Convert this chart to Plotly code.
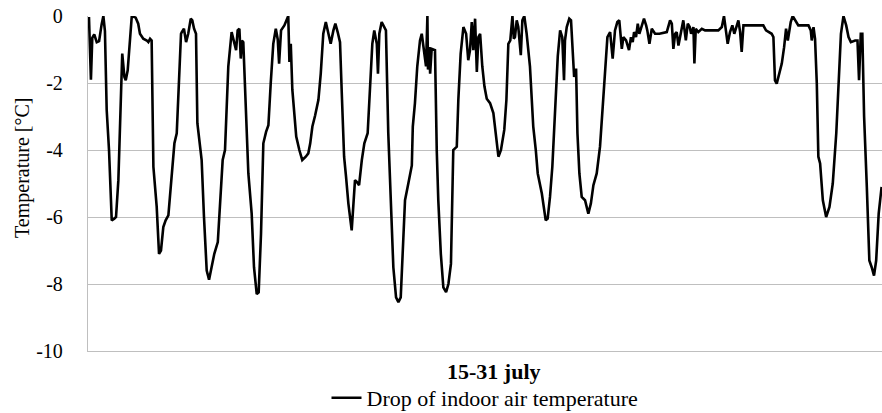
import plotly.graph_objects as go

# Time since start of 15 July [h] and drop of indoor air temperature [°C]
hours = [
    0.5, 1.5, 2.2, 3.2, 4.5, 5.7, 7.0, 7.9, 8.7, 9.6, 10.8, 12.2, 13.5, 14.4, 15.6, 17.0, 17.6, 18.7, 19.4, 20.4,
    21.6, 22.5, 24.5, 25.8, 26.7, 28.4, 30.2, 31.0, 31.9, 32.7, 33.6, 35.3, 36.5, 37.5, 38.7, 39.9, 41.3, 42.7,
    44.4, 45.6, 46.9, 47.8,
    48.2, 49.3, 50.4, 51.5, 52.8, 53.6, 54.5, 55.5, 56.2, 58.4, 59.6, 61.0, 62.2, 63.6, 64.9, 66.7, 67.8, 69.2,
    70.4, 72.1, 73.8, 75.0, 76.1, 76.9, 77.8, 78.5, 79.1, 79.8, 81.2, 82.4, 84.1, 85.3, 86.7, 87.7, 88.9, 90.1,
    91.5, 92.7, 93.9, 95.2, 96.5, 97.5, 98.2,
    99.2, 100.9, 102.3, 102.9, 103.5, 104.2, 105.0, 106.0, 107.0, 108.6, 110.1, 111.9, 113.2, 114.2, 115.3,
    116.7, 118.4, 119.6, 120.9, 122.2, 123.5, 124.7, 126.1, 127.1, 128.3, 129.5, 130.4, 131.6, 132.6, 133.8,
    135.5, 136.5, 137.2, 138.1, 139.3, 140.7, 142.0, 143.7, 144.9, 146.1, 147.1,
    148.4, 149.0, 149.7, 150.9, 152.1, 153.1, 154.3, 155.6, 156.9, 158.3, 159.5, 160.7, 161.5, 162.9, 164.6,
    166.4, 166.9, 168.0, 169.2, 170.6, 171.5, 172.7, 173.7, 174.4, 174.7, 175.4, 175.8, 176.6, 178.3, 179.2,
    180.0, 181.3, 182.6, 184.0, 185.2, 186.5, 187.7, 188.6, 189.5, 190.3, 191.5, 192.9, 194.3, 195.4,
    196.3, 197.2, 198.0, 198.9, 199.8, 200.6, 201.5, 202.6, 203.7, 204.9, 206.6, 208.3, 209.5, 210.9, 212.2,
    213.9, 215.0, 216.0, 217.0, 218.1, 218.8, 219.4, 220.3, 221.1, 222.4, 223.2, 224.2, 225.4, 227.1, 228.8,
    230.1, 231.1, 233.2, 235.2, 236.2, 237.4, 238.6, 240.0, 241.4, 242.6, 243.7, 244.6,
    245.1, 246.0, 247.3, 248.2, 249.1, 249.8, 250.8, 251.5, 252.5, 253.7, 255.4, 257.1, 258.4, 259.7, 261.4,
    263.1, 264.5, 265.7, 266.9, 268.3, 269.6, 270.8, 272.0, 273.0, 274.3, 275.1, 276.5, 278.0, 279.0, 279.9,
    280.6, 281.6, 282.5, 283.3, 284.5, 285.7, 286.8, 287.4, 288.5, 289.7, 291.4, 293.6,
    297.4, 299.1, 300.0, 300.8, 301.7, 302.5, 303.4, 304.7, 305.9, 307.2, 308.2, 309.2, 309.9, 311.1, 311.6,
    312.3, 313.6, 315.4, 317.1, 323.9, 325.7, 326.8, 327.7, 328.7, 329.9, 331.1, 332.1, 333.4, 334.2, 335.1,
    335.9, 336.8, 338.0,
    347.0, 348.4, 349.6, 351.3, 352.2, 353.0, 353.9, 355.2, 356.5, 357.7, 358.7, 359.6, 360.4, 361.1, 362.1,
    363.3, 365.0, 370.2, 371.4, 371.9, 372.8, 373.6, 374.5, 375.3, 376.2, 377.6, 379.3, 381.0, 382.7, 384.5,
    385.7, 386.9, 388.2, 389.6, 390.8, 392.0, 394.2, 395.4, 396.2, 397.1, 397.9, 398.8, 400.2, 401.5, 402.7,
    403.9, 405.0, 406.3, 407.8,
]

temp_drop = [
    -0.03, -1.9, -0.65, -0.55, -0.78, -0.75, -0.25, 0.0, -0.45, -2.8, -4.0, -6.1, -6.05, -6.0, -4.9, -2.5, -1.12, -1.82, -1.92, -1.62,
    -0.53, 0.0, -0.05, -0.23, -0.53, -0.68, -0.73, -0.78, -0.68, -0.73, -4.5, -5.7, -7.1, -7.0, -6.3, -6.1, -5.95, -4.9,
    -3.8, -3.5, -1.5, -0.53,
    -0.48, -0.38, -0.78, -0.53, -0.08, -0.13, -0.38, -0.53, -3.2, -4.3, -6.0, -7.6, -7.87, -7.5, -7.1, -6.75, -5.5, -4.3,
    -4.0, -1.5, -0.48, -0.73, -1.02, -0.43, -0.38, -1.27, -0.73, -0.78, -3.0, -4.7, -5.9, -7.5, -8.3, -8.25, -6.5, -3.8,
    -3.46, -3.26, -2.0, -0.83, -0.38, -0.7, -1.42,
    -0.43, -0.28, -0.08, 0.0, -1.37, -0.83, -2.2, -2.9, -3.6, -4.0, -4.3, -4.2, -4.1, -3.8, -3.3,
    -2.97, -2.5, -1.72, -0.53, -0.18, -0.53, -0.83, -0.43, -0.23, -0.48, -0.78, -2.3, -4.2, -4.8, -5.6,
    -6.4, -5.5, -4.9, -4.95, -5.05, -4.3, -3.8, -3.5, -2.0, -0.83, -0.43,
    -0.83, -1.72, -0.53, -0.18, -0.33, -0.43, -3.5, -5.5, -7.5, -8.4, -8.54, -8.4, -7.5, -5.5, -5.0,
    -4.46, -3.3, -2.6, -1.5, -0.73, -0.53, -1.02, -1.5, 0.0, -1.6, -0.93, -1.72, -0.98, -1.02, -4.0,
    -5.5, -7.1, -8.1, -8.24, -8.0, -7.4, -4.0, -3.95, -3.9, -2.5, -1.12, -0.33, -0.53, -1.32,
    -1.02, -0.18, -1.02, -0.08, -1.67, -0.63, -0.53, -1.5, -2.1, -2.47, -2.6, -2.9, -3.5, -4.2, -4.0,
    -3.4, -2.5, -0.83, -0.73, 0.0, -0.68, -0.63, -0.13, -0.33, -1.17, -0.13, 0.0, -0.53, -1.5, -3.3,
    -4.0, -4.7, -5.3, -6.1, -6.05, -5.4, -4.5, -2.8, -1.2, -0.43, -0.63, -1.92,
    -0.73, -0.33, -0.08, -0.13, -1.32, -1.82, -1.57, -3.5, -4.7, -5.4, -5.5, -5.9, -5.6, -5.05, -4.7,
    -3.9, -2.7, -1.6, -0.63, -0.48, -1.27, -0.43, -0.18, -0.13, -0.98, -0.63, -0.73, -1.02, -0.63, -0.78,
    -0.48, -0.63, -0.23, -0.53, -0.33, -0.08, -0.28, -0.43, -0.83, -0.38, -0.53, -0.53,
    -0.48, -0.13, -0.23, -0.98, -0.53, -0.48, -0.88, -0.48, -0.13, -0.73, -0.23, -0.33, -0.53, -0.33, -1.42,
    -0.38, -0.48, -0.38, -0.43, -0.43, -0.33, 0.0, -0.33, -0.83, -0.48, -0.28, -0.53, -0.23, -0.13, -0.48,
    -1.07, -0.28, -0.28,
    -0.28, -0.43, -0.48, -0.53, -0.63, -1.92, -2.02, -1.72, -1.42, -0.93, -0.38, -0.73, -0.38, -0.18, 0.0,
    -0.13, -0.28, -0.28, -0.43, -0.73, -0.33, -0.68, -2.02, -4.2, -4.4, -5.5, -6.0, -5.7, -5.0, -3.5,
    -2.0, -0.53, 0.0, -0.28, -0.63, -0.78, -0.73, -0.73, -1.92, -0.53, -0.53, -3.0, -5.1, -7.3, -7.5,
    -7.75, -7.3, -5.9, -5.1,
]

y_ticks = [0, -2, -4, -6, -8, -10]
y_tick_labels = ["0", "-2", "-4", "-6", "-8", "-10"]

series_name = "Drop of indoor air temperature"
x_title = "15-31 july"
y_title = "Temperature [°C]"

FONT = "Liberation Serif, Times New Roman, serif"
GRID = "#bfbfbf"

fig = go.Figure()
fig.add_trace(go.Scatter(
    x=hours, y=temp_drop, mode="lines", name=series_name,
    line=dict(color="black", width=2.6),
))

fig.update_layout(
    width=882, height=413,
    margin=dict(l=88, r=0, t=16, b=62, autoexpand=False),
    paper_bgcolor="white", plot_bgcolor="white",
    font=dict(family=FONT, size=20, color="black"),
    showlegend=True,
    legend=dict(
        orientation="h", x=0.5, xanchor="center", y=-0.14, yanchor="middle",
        font=dict(family=FONT, size=22, color="black"),
        bgcolor="rgba(0,0,0,0)", borderwidth=0,
        itemwidth=30,
    ),
    annotations=[
        dict(text="<b>" + x_title + "</b>", xref="paper", yref="paper",
             x=(494 - 88) / 794, y=(351 - 371) / 335, xanchor="center", yanchor="middle",
             showarrow=False, font=dict(family=FONT, size=22, color="black")),
        dict(text=y_title, xref="paper", yref="paper",
             x=-(88 - 22) / 794, y=(351 - 168) / 335, xanchor="center", yanchor="middle",
             textangle=-90, showarrow=False, font=dict(family=FONT, size=20, color="black")),
    ],
)

fig.update_xaxes(
    range=[0, 408], showticklabels=False, showgrid=False, zeroline=False,
    showline=True, linecolor=GRID, linewidth=1.3, ticks="", automargin=False,
)

fig.update_yaxes(
    range=[-10, 0], tickvals=y_ticks, ticktext=y_tick_labels,
    showgrid=True, gridcolor=GRID, gridwidth=1.3,
    zeroline=False, showline=True, linecolor=GRID, linewidth=1.3,
    ticks="", ticklabelstandoff=20, automargin=False,
    tickfont=dict(family=FONT, size=20, color="black"),
)

fig.write_html(
    "out.html",
    config={"displayModeBar": False},
    post_script="document.body.style.margin='0';document.body.style.overflow='hidden';",
)
